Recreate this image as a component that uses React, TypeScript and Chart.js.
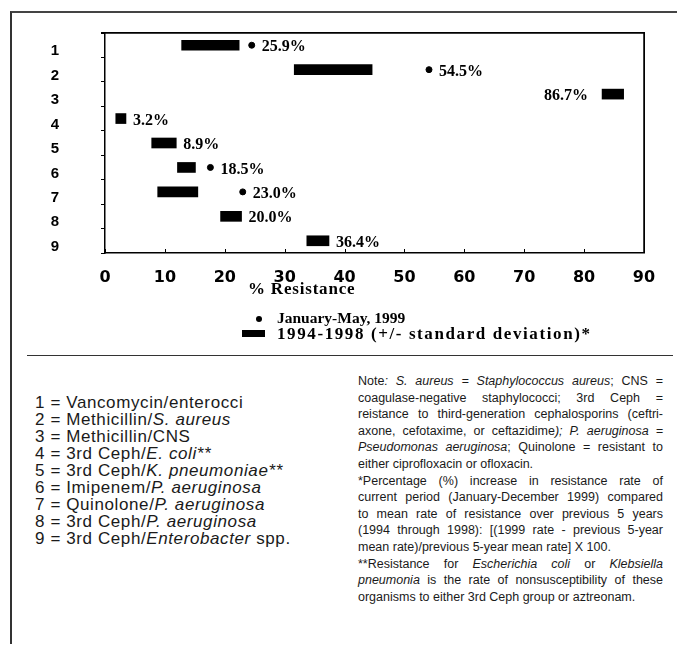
import React, { useEffect, useRef } from 'react';
import { Chart, registerables } from 'chart.js';

Chart.register(...registerables);

// ---- data ----
const categories = ['1', '2', '3', '4', '5', '6', '7', '8', '9'];
const rangeLow = [12.8, 31.6, 83.0, 1.8, 7.8, 12.1, 8.8, 19.3, 33.7];
const rangeHigh = [22.4, 44.6, 86.6, 3.5, 11.9, 15.1, 15.5, 22.8, 37.4];
const current1999: (number | null)[] = [24.5, 54.1, null, null, null, 17.6, 23.0, null, null];
const pctIncrease = ['25.9%', '54.5%', '86.7%', '3.2%', '8.9%', '18.5%', '23.0%', '20.0%', '36.4%'];
const xMin = 0;
const xMax = 90;
const xStep = 10;

const legendCurrent = 'January-May, 1999';
const legendRange = '1994-1998 (+/- standard deviation)*';
const xTitle = '% Resistance';

const SERIF = '"Liberation Serif", "Times New Roman", serif';
const SANS = '"Liberation Sans", Arial, sans-serif';

const decorPlugin = {
  id: 'decor',
  afterDraw(chart: any) {
    const ctx = chart.ctx;
    const a = chart.chartArea;
    const xs = chart.scales.x;
    ctx.save();
    ctx.strokeStyle = '#000';
    ctx.lineWidth = 1.5;
    ctx.beginPath();
    ctx.moveTo(a.left - 4, a.top);
    ctx.lineTo(a.right, a.top);
    ctx.lineTo(a.right, a.bottom);
    ctx.stroke();
    ctx.lineWidth = 1;
    xs.ticks.forEach((t: any) => {
      const px = Math.round(xs.getPixelForValue(t.value)) + 0.5;
      ctx.beginPath();
      ctx.moveTo(px, a.bottom);
      ctx.lineTo(px, a.bottom - 4);
      ctx.stroke();
    });
    const barMeta = chart.getDatasetMeta(0);
    const dotMeta = chart.getDatasetMeta(1);
    ctx.font = `bold 16px ${SERIF}`;
    ctx.fillStyle = '#000';
    ctx.textBaseline = 'middle';
    pctIncrease.forEach((txt, i) => {
      const bar = barMeta.data[i];
      const dot = dotMeta.data[i];
      const left = Math.min(bar.x, bar.base);
      const right = Math.max(bar.x, bar.base);
      const w = ctx.measureText(txt).width;
      let x = current1999[i] != null ? dot.x + 10 : right + 7;
      ctx.textAlign = 'left';
      if (x + w > a.right) {
        x = left - 14;
        ctx.textAlign = 'right';
      }
      ctx.fillText(txt, x, bar.y + 2);
    });
    ctx.restore();
  },
};

function ResistanceChart() {
  const ref = useRef<HTMLCanvasElement>(null);
  useEffect(() => {
    if (!ref.current) return;
    const chart = new Chart(ref.current, {
      type: 'bar',
      data: {
        labels: categories,
        datasets: [
          {
            label: legendRange,
            data: rangeLow.map((v, i) => [v, rangeHigh[i]]) as any,
            backgroundColor: '#000',
            borderWidth: 0,
            barThickness: 10,
          } as any,
          {
            type: 'line',
            label: legendCurrent,
            data: current1999 as any,
            showLine: false,
            pointRadius: 3,
            pointBackgroundColor: '#000',
            pointBorderColor: '#000',
            backgroundColor: '#000',
            borderColor: '#000',
          } as any,
        ],
      },
      options: {
        indexAxis: 'y',
        responsive: true,
        maintainAspectRatio: false,
        animation: false,
        layout: { padding: { top: 13, right: 16, left: 0, bottom: 0 } },
        plugins: { legend: { display: false }, tooltip: { enabled: false } },
        scales: {
          x: {
            type: 'linear',
            min: xMin,
            max: xMax,
            ticks: {
              stepSize: xStep,
              color: '#000',
              padding: 15,
              font: { family: '"DejaVu Sans", sans-serif', size: 16, weight: 'bold' },
            },
            grid: { drawOnChartArea: false, drawTicks: false },
            border: { color: '#000', width: 1.5 },
            afterFit: (s: any) => {
              s.height = 37;
              s.paddingLeft = 0;
              s.paddingRight = 0;
            },
          },
          y: {
            type: 'category',
            offset: true,
            ticks: {
              color: '#000',
              padding: 42,
              labelOffset: 6,
              font: { family: SANS, size: 15, weight: 'bold' },
            },
            grid: { drawOnChartArea: false, drawTicks: true, tickLength: 4, color: '#000', offset: true },
            border: { color: '#000', width: 1.5 },
            afterFit: (s: any) => {
              s.width = 85;
              s.paddingTop = 0;
              s.paddingBottom = 0;
            },
          },
        },
      } as any,
      plugins: [decorPlugin],
    });
    return () => chart.destroy();
  }, []);
  return (
    <div style={{ position: 'absolute', left: 12, top: 12, width: 640, height: 270 }}>
      <canvas ref={ref} />
    </div>
  );
}

const listItems: React.ReactNode[] = [
  <>1 = Vancomycin/enterocci</>,
  <>2 = Methicillin/<i>S. aureus</i></>,
  <>3 = Methicillin/CNS</>,
  <>4 = 3rd Ceph/<i>E. coli**</i></>,
  <>5 = 3rd Ceph/<i>K. pneumoniae**</i></>,
  <>6 = Imipenem/<i>P. aeruginosa</i></>,
  <>7 = Quinolone/<i>P. aeruginosa</i></>,
  <>8 = 3rd Ceph/<i>P. aeruginosa</i></>,
  <>9 = 3rd Ceph/<i>Enterobacter</i> spp.</>,
];

const noteLines: { c: React.ReactNode; j: boolean }[] = [
  { c: <>Note<i>: S. aureus = Staphylococcus aureus</i>; CNS =</>, j: true },
  { c: <>coagulase-negative staphylococci; 3rd Ceph =</>, j: true },
  { c: <>reistance to third-generation cephalosporins (ceftri-</>, j: true },
  { c: <>axone, cefotaxime, or ceftazidime<i>); P. aeruginosa =</i></>, j: true },
  { c: <><i>Pseudomonas aeruginosa</i>; Quinolone = resistant to</>, j: true },
  { c: <>either ciprofloxacin or ofloxacin.</>, j: false },
  { c: <>*Percentage (%) increase in resistance rate of</>, j: true },
  { c: <>current period (January-December 1999) compared</>, j: true },
  { c: <>to mean rate of resistance over previous 5 years</>, j: true },
  { c: <>(1994 through 1998): [(1999 rate - previous 5-year</>, j: true },
  { c: <>mean rate)/previous 5-year mean rate] X 100.</>, j: false },
  { c: <>**Resistance for <i>Escherichia coli</i> or <i>Klebsiella</i></>, j: true },
  { c: <><i>pneumonia</i> is the rate of nonsusceptibility of these</>, j: true },
  { c: <>organisms to either 3rd Ceph group or aztreonam.</>, j: false },
];

export default function App() {
  return (
    <div style={{ position: 'relative', width: 669, height: 636 }}>
      <div
        style={{
          position: 'absolute',
          left: 2,
          top: 3,
          width: 673,
          height: 639,
          borderTop: '2px solid #444',
          borderLeft: '2px solid #333',
          boxSizing: 'border-box',
        }}
      />
      <ResistanceChart />
      <div
        style={{
          position: 'absolute',
          left: 93,
          top: 24,
          width: 544,
          height: 221,
          borderTop: '1.5px solid #000',
          borderRight: '1.5px solid #000',
          boxSizing: 'border-box',
          pointerEvents: 'none',
        }}
      />
      <div
        style={{
          position: 'absolute',
          left: 240,
          top: 272,
          font: `bold 17px ${SERIF}`,
          lineHeight: '17px',
          letterSpacing: 0.8,
          whiteSpace: 'nowrap',
          color: '#000',
        }}
      >
        {xTitle}
      </div>
      <div
        style={{ position: 'absolute', left: 248, top: 308, width: 6, height: 6, borderRadius: 3, background: '#000' }}
      />
      <div
        style={{
          position: 'absolute',
          left: 269,
          top: 302,
          font: `bold 15.5px ${SERIF}`,
          lineHeight: '16px',
          whiteSpace: 'nowrap',
          color: '#000',
        }}
      >
        {legendCurrent}
      </div>
      <div style={{ position: 'absolute', left: 234, top: 322, width: 23, height: 7, background: '#000' }} />
      <div
        style={{
          position: 'absolute',
          left: 269,
          top: 317,
          font: `bold 17px ${SERIF}`,
          lineHeight: '17px',
          letterSpacing: 1.6,
          whiteSpace: 'nowrap',
          color: '#000',
        }}
      >
        {legendRange}
      </div>
      <div style={{ position: 'absolute', left: 19, top: 347, width: 646, borderTop: '1px solid #333' }} />
      <div
        style={{
          position: 'absolute',
          left: 27,
          top: 386,
          font: `17px ${SANS}`,
          lineHeight: '17px',
          letterSpacing: 0.6,
          color: '#1a1a1a',
          whiteSpace: 'nowrap',
        }}
      >
        {listItems.map((c, i) => (
          <div key={i}>{c}</div>
        ))}
      </div>
      <div
        style={{
          position: 'absolute',
          left: 350,
          top: 365,
          width: 305,
          font: `12.5px ${SANS}`,
          lineHeight: '16.6px',
          color: '#1a1a1a',
        }}
      >
        {noteLines.map((l, i) => (
          <div key={i} style={{ textAlign: l.j ? 'justify' : 'left', textAlignLast: l.j ? 'justify' : 'left' } as any}>
            {l.c}
          </div>
        ))}
      </div>
    </div>
  );
}
